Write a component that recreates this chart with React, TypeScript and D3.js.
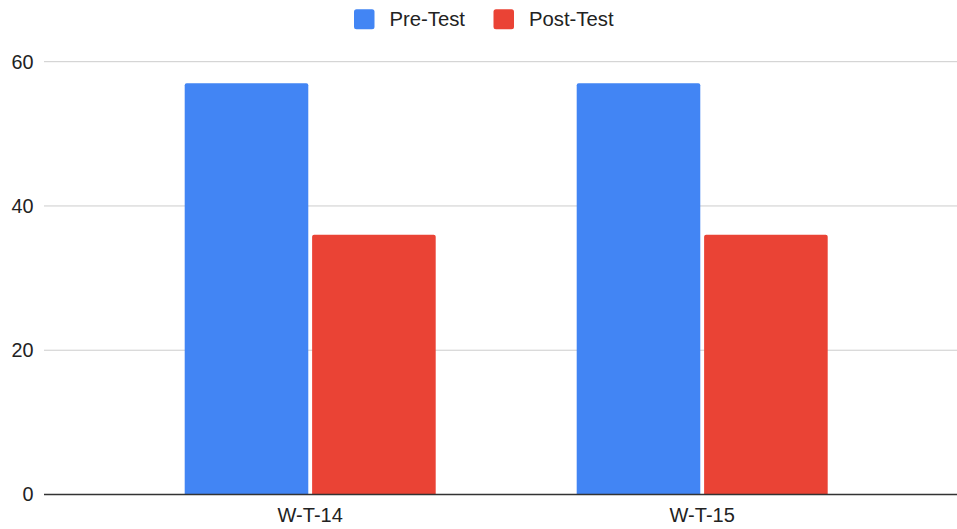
import React from "react";
import * as d3 from "d3";

const categories = ["W-T-14", "W-T-15"];
const seriesNames = ["Pre-Test", "Post-Test"];
const preTest = [57, 57];
const postTest = [36, 36];
const yTicks = [0, 20, 40, 60];
const colors = ["#4285F4", "#EA4335"];

const W = 957;
const H = 529;

function topRoundedRect(x: number, y: number, w: number, h: number, r: number) {
  const rr = Math.min(r, h / 2, w / 2);
  return `M${x},${y + h}V${y + rr}Q${x},${y} ${x + rr},${y}H${x + w - rr}Q${x + w},${y} ${x + w},${y + rr}V${y + h}Z`;
}

export default function App() {
  const values = [preTest, postTest];
  const y = d3.scaleLinear().domain([0, 60]).range([494.5, 61.7]);
  const x0 = d3.scaleBand<string>().domain(categories).range([114.2, 898.2]).padding(0);
  const groupW = 251;
  const x1 = d3
    .scaleBand<string>()
    .domain(seriesNames)
    .range([0, groupW])
    .paddingInner(0.03)
    .paddingOuter(0);
  const font = "Arial, 'Liberation Sans', sans-serif";

  return (
    <svg
      width={W}
      height={H}
      style={{ position: "absolute", left: 0, top: 0, background: "#fff" }}
      fontFamily={font}
    >
      {/* gridlines */}
      {yTicks.map((t) => (
        <g key={t}>
          {t !== 0 && (
            <line x1={44} x2={957} y1={y(t)} y2={y(t)} stroke="#cccccc" strokeWidth={1} />
          )}
          <text
            x={33.5}
            y={y(t)}
            dy="0.35em"
            textAnchor="end"
            fontSize={19.8}
            fill="#222"
          >
            {t}
          </text>
        </g>
      ))}
      {/* bars */}
      {categories.map((c, ci) => {
        const gx = (x0(c) as number) + (x0.bandwidth() - groupW) / 2;
        return (
          <g key={c}>
            {seriesNames.map((s, si) => {
              const v = values[si][ci];
              const bx = gx + (x1(s) as number);
              const by = y(v);
              return (
                <path
                  key={s}
                  d={topRoundedRect(bx, by, x1.bandwidth(), y(0) - by, 2)}
                  fill={colors[si]}
                />
              );
            })}
            <text
              x={(x0(c) as number) + x0.bandwidth() / 2}
              y={521.5}
              textAnchor="middle"
              fontSize={20}
              fill="#222"
            >
              {c}
            </text>
          </g>
        );
      })}
      {/* baseline */}
      <line x1={44} x2={957} y1={y(0)} y2={y(0)} stroke="#333" strokeWidth={1.3} />
      {/* legend */}
      {seriesNames.map((s, i) => {
        const lx = [354, 493.5][i];
        return (
          <g key={s}>
            <rect x={lx} y={9.3} width={20.5} height={20} rx={2.5} fill={colors[i]} />
            <text x={lx + 35.5} y={26} fontSize={20.3} fill="#222">
              {s}
            </text>
          </g>
        );
      })}
    </svg>
  );
}
